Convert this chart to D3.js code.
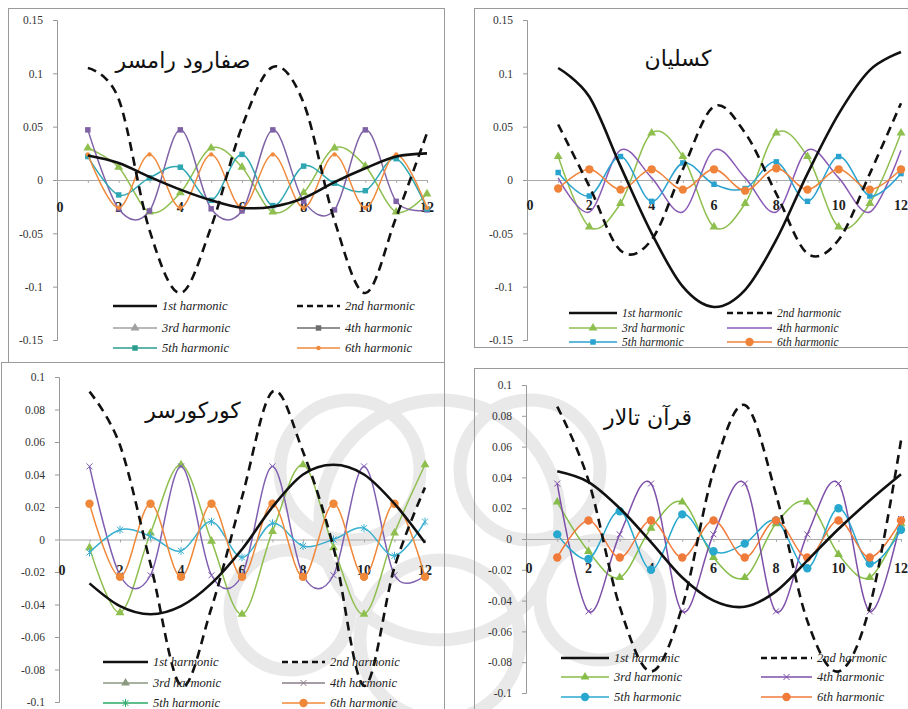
<!DOCTYPE html>
<html>
<head>
<meta charset="utf-8">
<script src="https://cdn.jsdelivr.net/npm/d3@7"></script>
<style>
  body { margin: 0; background: #fff; }
  svg { display: block; }
</style>
</head>
<body>
<div id="chart"></div>
<script>
// months on the x axis
const months = [1, 2, 3, 4, 5, 6, 7, 8, 9, 10, 11, 12];
const xTicks = [0, 2, 4, 6, 8, 10, 12];
const yTicksWide = [-0.15, -0.1, -0.05, 0, 0.05, 0.1, 0.15];
const yTicksNarrow = [-0.1, -0.08, -0.06, -0.04, -0.02, 0, 0.02, 0.04, 0.06, 0.08, 0.1];
const harmonicNames = ["1st harmonic", "2nd harmonic", "3rd harmonic", "4th harmonic", "5th harmonic", "6th harmonic"];
const stationNames = ["صفارود رامسر", "کسلیان", "کورکورسر", "قرآن تالار"];

// harmonics 1..6
const safarud = [
  [0.023, 0.016, 0.003, -0.009, -0.019, -0.026, -0.025, -0.017, -0.002, 0.011, 0.022, 0.025],
  [0.105, 0.076, -0.047, -0.106, -0.044, 0.05, 0.106, 0.072, -0.038, -0.106, -0.035, 0.044],
  [0.03, 0.012, -0.03, -0.012, 0.03, 0.012, -0.03, -0.012, 0.03, 0.013, -0.03, -0.013],
  [0.047, -0.027, -0.029, 0.047, -0.027, -0.029, 0.047, -0.02, -0.028, 0.047, -0.02, -0.028],
  [0.022, -0.014, 0.002, 0.012, -0.019, 0.024, -0.024, 0.013, -0.003, -0.01, 0.02, -0.027],
  [0.024, -0.026, 0.024, -0.026, 0.024, -0.026, 0.024, -0.026, 0.024, -0.026, 0.024, -0.026]
];
const kasilian = [
  [0.105, 0.078, 0.013, -0.05, -0.1, -0.119, -0.103, -0.056, 0.006, 0.062, 0.103, 0.12],
  [0.052, -0.006, -0.066, -0.056, 0.01, 0.069, 0.044, -0.013, -0.069, -0.056, 0.006, 0.072],
  [0.022, -0.044, -0.022, 0.044, 0.022, -0.044, -0.022, 0.044, 0.022, -0.044, -0.022, 0.044],
  [0.002, -0.03, 0.028, 0.002, -0.03, 0.028, 0.002, -0.03, 0.028, 0.002, -0.03, 0.028],
  [0.007, -0.015, 0.022, -0.02, 0.016, -0.004, -0.008, 0.017, -0.02, 0.022, -0.015, 0.006],
  [-0.008, 0.01, -0.009, 0.01, -0.009, 0.01, -0.01, 0.011, -0.009, 0.01, -0.009, 0.01]
];
const korkorsar = [
  [-0.027, -0.041, -0.046, -0.041, -0.027, -0.006, 0.02, 0.04, 0.046, 0.04, 0.022, -0.002],
  [0.091, 0.058, -0.015, -0.09, -0.042, 0.026, 0.091, 0.054, -0.005, -0.09, -0.017, 0.032],
  [-0.005, -0.045, 0.004, 0.046, -0.001, -0.046, 0.005, 0.046, -0.005, -0.046, 0.004, 0.046],
  [0.045, -0.022, -0.022, 0.045, -0.022, -0.022, 0.045, -0.022, -0.022, 0.045, -0.022, -0.022],
  [-0.008, 0.006, 0.002, -0.007, 0.011, -0.011, 0.01, -0.004, 0, 0.007, -0.01, 0.011],
  [0.022, -0.023, 0.022, -0.023, 0.022, -0.023, 0.022, -0.023, 0.022, -0.023, 0.022, -0.023]
];
const quranTalar = [
  [0.044, 0.037, 0.02, -0.002, -0.025, -0.04, -0.044, -0.034, -0.014, 0.0065, 0.025, 0.042],
  [0.086, 0.038, -0.044, -0.086, -0.044, 0.044, 0.087, 0.029, -0.053, -0.086, -0.044, 0.064],
  [0.024, -0.008, -0.025, 0.007, 0.024, -0.012, -0.025, 0.01, 0.024, -0.01, -0.025, 0.01],
  [0.036, -0.047, 0.003, 0.036, -0.047, 0.003, 0.036, -0.047, 0.003, 0.036, -0.047, 0.013],
  [0.003, -0.013, 0.018, -0.02, 0.016, -0.008, -0.003, 0.012, -0.019, 0.02, -0.016, 0.006],
  [-0.012, 0.012, -0.012, 0.012, -0.012, 0.012, -0.012, 0.012, -0.012, 0.012, -0.012, 0.012]
];

const width = 908, height = 709;

const svg = d3.select("#chart").append("svg")
    .attr("width", width)
    .attr("height", height)
    .attr("viewBox", [0, 0, width, height]);

svg.append("rect").attr("width", width).attr("height", height).attr("fill", "#fff");

// faint watermark behind the lower panels
const wm = svg.append("g").attr("fill", "none").attr("stroke", "#e9e9e9").attr("stroke-width", 13);
[[440, 520, 120], [350, 470, 70], [530, 470, 70], [440, 640, 80], [600, 600, 60], [290, 610, 60]].forEach(([cx, cy, r]) => {
    wm.append("circle").attr("cx", cx).attr("cy", cy).attr("r", r);
});

const panels = [
    {
        data: safarud, title: stationNames[0], frame: [8, 8, 444, 362],
        x: [57, 427], yDomain: [-0.15, 0.15], y: [340, 20], yTicks: yTicksWide,
        titlePos: [183, 68], labelDy: 27,
        colors: ["#111", "#111", "#8fbf4f", "#7f62a6", "#2fa7b3", "#f08a3c"],
        markers: [null, null, "tri", "sq", "sq", "dot"],
        legendColors: ["#111", "#111", "#a0a0a0", "#6e6e6e", "#2a9d8f", "#f08a3c"],
        legend: { c1: [113, 157], c2: [297, 340], rows: [306, 328, 348], size: 12.5 }
    },
    {
        data: kasilian, title: stationNames[1], frame: [474, 8, 912, 347],
        x: [527, 901], yDomain: [-0.15, 0.15], y: [340, 20], yTicks: yTicksWide,
        titlePos: [678, 66], labelDy: 25,
        colors: ["#111", "#111", "#8fbf4f", "#8a5bb5", "#2aa2cf", "#f0833a"],
        markers: [null, null, "tri", null, "sq", "circ"],
        legendColors: ["#111", "#111", "#8fbf4f", "#8a5bb5", "#2aa2cf", "#f0833a"],
        legend: { c1: [569, 617], c2: [727, 772], rows: [313, 328, 342], size: 11.5 }
    },
    {
        data: korkorsar, title: stationNames[2], frame: [1, 362, 444, 712],
        x: [59, 425], yDomain: [-0.1, 0.1], y: [702, 377], yTicks: yTicksNarrow,
        titlePos: [193, 418], labelDy: 30,
        colors: ["#111", "#111", "#8fbf4f", "#7f5fb0", "#3aafd0", "#f0883a"],
        markers: [null, null, "tri", "x", "star", "circ"],
        legendColors: ["#111", "#111", "#8a9a80", "#8a7c8a", "#2aa866", "#f0883a"],
        legend: { c1: [103, 148], c2: [282, 325], rows: [662, 683, 703], size: 12.5 }
    },
    {
        data: quranTalar, title: stationNames[3], frame: [474, 368, 912, 712],
        x: [526, 901], yDomain: [-0.1, 0.1], y: [693, 385], yTicks: yTicksNarrow,
        titlePos: [648, 425], labelDy: 29,
        colors: ["#111", "#111", "#86bd48", "#7e4fa8", "#28a8cf", "#f07a3a"],
        markers: [null, null, "tri", "x", "circ", "circ"],
        legendColors: ["#111", "#111", "#86bd48", "#7e4fa8", "#28a8cf", "#f07a3a"],
        legend: { c1: [561, 609], c2: [761, 812], rows: [658, 677, 697], size: 12.5 }
    }
];

function drawMarker(g, type, px, py, color) {
    if (type === "tri") {
        g.append("path").attr("d", d3.symbol(d3.symbolTriangle, 34)())
            .attr("transform", `translate(${px},${py})`).attr("fill", color);
    } else if (type === "sq") {
        g.append("path").attr("d", d3.symbol(d3.symbolSquare, 30)())
            .attr("transform", `translate(${px},${py})`).attr("fill", color);
    } else if (type === "dot") {
        g.append("circle").attr("cx", px).attr("cy", py).attr("r", 2.2).attr("fill", color);
    } else if (type === "circ") {
        g.append("circle").attr("cx", px).attr("cy", py).attr("r", 4.2).attr("fill", color);
    } else if (type === "x") {
        g.append("path").attr("d", `M${px - 3},${py - 3}L${px + 3},${py + 3}M${px - 3},${py + 3}L${px + 3},${py - 3}`)
            .attr("stroke", color).attr("stroke-width", 1);
    } else if (type === "star") {
        g.append("path").attr("d", `M${px - 3},${py - 3}L${px + 3},${py + 3}M${px - 3},${py + 3}L${px + 3},${py - 3}M${px},${py - 4}L${px},${py + 4}`)
            .attr("stroke", color).attr("stroke-width", 1);
    }
}

function drawPanel(p) {
    const g = svg.append("g");
    const [fx0, fy0, fx1, fy1] = p.frame;

    g.append("rect")
        .attr("x", fx0 + 0.5).attr("y", fy0 + 0.5)
        .attr("width", fx1 - fx0).attr("height", fy1 - fy0)
        .attr("fill", "none").attr("stroke", "#9a9a9a").attr("stroke-width", 1);

    const x = d3.scaleLinear().domain([0, 12]).range(p.x);
    const y = d3.scaleLinear().domain(p.yDomain).range(p.y);

    // y axis
    const yAxis = g.append("g")
        .attr("transform", `translate(${x(0)},0)`)
        .call(d3.axisLeft(y).tickValues(p.yTicks).tickSize(4).tickPadding(10)
            .tickFormat(d => String(+d.toFixed(2))));
    yAxis.select(".domain").attr("stroke", "#999");
    yAxis.selectAll(".tick line").attr("stroke", "#999");
    yAxis.selectAll("text")
        .attr("font-family", "Liberation Serif, serif")
        .attr("font-size", 11.5)
        .attr("fill", "#333");

    // x axis at zero
    const xAxis = g.append("g")
        .attr("transform", `translate(0,${y(0)})`)
        .call(d3.axisBottom(x).tickValues(months).tickSize(3).tickFormat(""));
    xAxis.select(".domain").attr("stroke", "#aaa");
    xAxis.selectAll(".tick line").attr("stroke", "#aaa");

    g.append("g").selectAll("text")
        .data(xTicks)
        .join("text")
        .attr("x", d => x(d) + (d === 0 ? 3 : 0))
        .attr("y", y(0) + p.labelDy + 5)
        .attr("text-anchor", "middle")
        .attr("font-family", "Liberation Serif, serif")
        .attr("font-weight", "bold")
        .attr("font-size", 14)
        .attr("fill", "#222")
        .text(d => d);

    // title
    g.append("text")
        .attr("x", p.titlePos[0]).attr("y", p.titlePos[1])
        .attr("text-anchor", "middle")
        .attr("direction", "rtl")
        .attr("font-family", "DejaVu Sans, sans-serif")
        .attr("font-size", 22)
        .attr("fill", "#111")
        .text(p.title);

    const line = d3.line()
        .x((d, i) => x(months[i]))
        .y(d => y(d))
        .curve(d3.curveCardinal.tension(0));

    // draw higher harmonics first, then 1st and 2nd on top
    const order = [2, 3, 4, 5, 0, 1];
    order.forEach(h => {
        const series = p.data[h];
        g.append("path")
            .datum(series)
            .attr("d", line)
            .attr("fill", "none")
            .attr("stroke", p.colors[h])
            .attr("stroke-width", h < 2 ? 2.6 : 1.5)
            .attr("stroke-dasharray", h === 1 ? "9,6" : null);
        if (p.markers[h]) {
            const mg = g.append("g");
            series.forEach((v, i) => drawMarker(mg, p.markers[h], x(months[i]), y(v), p.colors[h]));
        }
    });

    // legend, 2 columns x 3 rows
    const lg = g.append("g");
    harmonicNames.forEach((name, i) => {
        const col = i % 2 === 0 ? p.legend.c1 : p.legend.c2;
        const ry = p.legend.rows[Math.floor(i / 2)];
        lg.append("line")
            .attr("x1", col[0]).attr("x2", col[1])
            .attr("y1", ry).attr("y2", ry)
            .attr("stroke", p.legendColors[i])
            .attr("stroke-width", i < 2 ? 2.6 : 1.5)
            .attr("stroke-dasharray", i === 1 ? "6,4" : null);
        if (p.markers[i]) drawMarker(lg, p.markers[i], (col[0] + col[1]) / 2, ry, p.legendColors[i]);
        lg.append("text")
            .attr("x", col[1] + 5).attr("y", ry + 4)
            .attr("font-family", "Liberation Serif, serif")
            .attr("font-style", "italic")
            .attr("font-size", p.legend.size)
            .attr("fill", "#222")
            .text(name);
    });
}

panels.forEach(drawPanel);
</script>
</body>
</html>
